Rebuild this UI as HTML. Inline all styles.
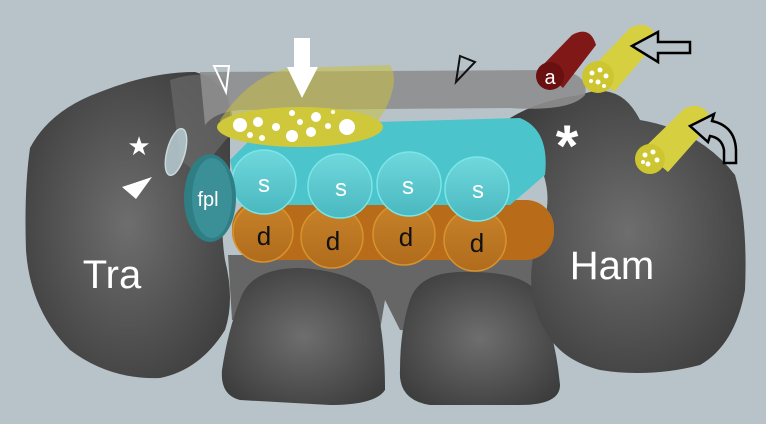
<!DOCTYPE html>
<html><head><meta charset="utf-8"><style>
html,body{margin:0;padding:0;background:#b7c3c8;}
svg{display:block}
text{font-family:"Liberation Sans",sans-serif;}
</style></head><body>
<svg width="766" height="424" viewBox="0 0 766 424" xmlns="http://www.w3.org/2000/svg">
<defs>
<radialGradient id="bone" cx="50%" cy="50%" r="65%"><stop offset="0" stop-color="#6e6e6e"/><stop offset="1" stop-color="#3a3a3a"/></radialGradient>
<linearGradient id="cy" x1="0" y1="0" x2="0" y2="1"><stop offset="0" stop-color="#6fd8dc"/><stop offset="1" stop-color="#4ab8c0"/></linearGradient>
<linearGradient id="or" x1="0" y1="0" x2="0" y2="1"><stop offset="0" stop-color="#c8822a"/><stop offset="1" stop-color="#b06c1c"/></linearGradient>
</defs>
<rect width="766" height="424" fill="#b7c3c8"/>
<!-- back grey -->
<path d="M228 255 L550 255 Q556 300 545 340 L400 330 L385 300 L380 330 L232 320Z" fill="#666"/>
<!-- bottom bones -->
<path d="M240 300 Q250 268 300 268 Q345 270 370 290 Q385 320 385 390 Q375 405 330 405 L240 400 Q220 395 222 370 Q228 330 240 300Z" fill="url(#bone)"/>
<path d="M410 300 Q420 270 470 272 Q520 272 535 290 Q555 330 560 385 Q560 405 520 405 L430 405 Q398 400 400 370 Q400 330 410 300Z" fill="url(#bone)"/>
<!-- Tra -->
<path d="M30 148 Q50 110 100 92 Q150 72 195 72 Q225 80 230 110 L230 175 Q218 215 225 260 Q235 300 225 330 Q200 370 160 378 Q110 380 70 350 Q30 310 26 250 Q24 190 30 148Z" fill="url(#bone)"/>
<path d="M170 80 Q200 70 225 78 L235 130 Q215 150 200 175 L180 160 Z" fill="#6a6a6a" opacity="0.7"/>
<!-- Ham -->
<path d="M510 118 Q540 100 580 95 Q620 80 640 120 Q700 130 735 175 Q748 220 745 290 Q735 345 700 365 Q650 378 600 370 Q560 360 545 330 Q520 290 540 230 Q555 200 540 165 Q512 145 510 118Z" fill="url(#bone)"/>
<!-- ligament band -->
<path d="M200 72 L560 70 Q590 75 585 95 Q570 112 510 108 L240 110 Q215 112 205 125 Z" fill="#8e8e8e" opacity="0.9"/>
<!-- glass tube left -->
<ellipse cx="176" cy="152" rx="9" ry="24" fill="#b8cdd3" opacity="0.85" stroke="#dfeef0" stroke-width="1.5" transform="rotate(15 176 152)"/>
<!-- cylinders d -->
<rect x="232" y="200" width="322" height="60" rx="28" fill="#b86c1a"/>
<g fill="url(#or)" stroke="#d8922e" stroke-width="1.5">
<circle cx="263" cy="232" r="30"/><circle cx="332" cy="237" r="31"/><circle cx="404" cy="234" r="31"/><circle cx="475" cy="240" r="31"/>
</g>
<!-- cylinders s -->
<path d="M230 160 L265 125 L520 118 Q550 130 545 175 L510 205 L240 205Z" fill="#4cc4cc"/>
<g fill="url(#cy)" stroke="#7ae6ea" stroke-width="1.5">
<circle cx="264" cy="182" r="32"/><circle cx="340" cy="186" r="32"/><circle cx="409" cy="184" r="32"/><circle cx="477" cy="189" r="32"/>
</g>
<!-- fpl -->
<ellipse cx="210" cy="198" rx="26" ry="44" fill="#2e7e84"/>
<ellipse cx="212" cy="198" rx="20" ry="40" fill="#3a9096"/>
<!-- yellow nerve -->
<path d="M220 120 Q250 75 290 68 L390 65 Q400 80 385 110 L375 125 L225 130Z" fill="#c8c040" opacity="0.55"/>
<ellipse cx="300" cy="127" rx="83" ry="20" fill="#cfc83a"/>
<g fill="#fff"><circle cx="240" cy="125" r="7"/><circle cx="258" cy="122" r="5"/><circle cx="276" cy="127" r="4"/><circle cx="292" cy="113" r="3"/><circle cx="300" cy="122" r="3"/><circle cx="292" cy="136" r="6"/><circle cx="316" cy="117" r="5"/><circle cx="311" cy="132" r="5"/><circle cx="328" cy="126" r="3"/><circle cx="347" cy="127" r="8"/><circle cx="250" cy="135" r="3"/><circle cx="262" cy="138" r="3"/><circle cx="333" cy="112" r="2"/></g>
<!-- big white arrow -->
<path d="M294 38 L310 38 L310 67 L318 67 L302 98 L287 67 L294 67Z" fill="#fff"/>
<!-- small hollow arrowheads -->
<path d="M214 66 L229 66 L226 92Z" fill="none" stroke="#fff" stroke-width="2"/>
<path d="M460 56 L475 62 L456 82Z" fill="none" stroke="#111" stroke-width="2"/>
<!-- star & white arrowhead -->
<text x="139" y="155" font-size="26" fill="#fff" text-anchor="middle">★</text>
<path d="M122 187 L152 177 L136 199Z" fill="#fff"/>
<!-- asterisk -->
<text x="567" y="166" font-size="58" fill="#fff" text-anchor="middle" font-weight="bold">*</text>
<!-- red cylinder a -->
<path d="M540 68 L572 35 Q590 25 596 45 L563 88Z" fill="#801818"/>
<circle cx="550" cy="76" r="14" fill="#6a1010"/>
<text x="550" y="84" font-size="20" fill="#fff" text-anchor="middle">a</text>
<!-- yellow cylinders right -->
<path d="M590 70 L630 28 Q650 18 658 40 L614 92Z" fill="#d6d040"/>
<circle cx="598" cy="77" r="16" fill="#cdc630"/>
<g fill="#fff"><circle cx="592" cy="73" r="2.5"/><circle cx="600" cy="70" r="2.5"/><circle cx="606" cy="76" r="2.5"/><circle cx="598" cy="82" r="2.5"/><circle cx="591" cy="81" r="2"/><circle cx="604" cy="86" r="2"/></g>
<path d="M642 150 L685 108 Q705 100 712 122 L668 172Z" fill="#d6d040"/>
<circle cx="650" cy="159" r="15" fill="#cdc630"/>
<g fill="#fff"><circle cx="645" cy="155" r="2.5"/><circle cx="653" cy="152" r="2.5"/><circle cx="657" cy="160" r="2.5"/><circle cx="648" cy="164" r="2.5"/><circle cx="643" cy="162" r="2"/></g>
<!-- outlined arrows -->
<path d="M632 46 L658 32 L658 42 L690 42 L690 53 L658 53 L658 62Z" fill="#b7c3c8" stroke="#000" stroke-width="2.5"/>
<path d="M690 126 L714 114 L712 121 Q735 126 736 150 L736 163 L724 163 L724 150 Q722 138 710 136 L708 142Z" fill="#b7c3c8" stroke="#000" stroke-width="2.5"/>
<!-- labels -->
<text x="264" y="192" font-size="24" fill="#fff" text-anchor="middle">s</text>
<text x="341" y="196" font-size="24" fill="#fff" text-anchor="middle">s</text>
<text x="408" y="194" font-size="24" fill="#fff" text-anchor="middle">s</text>
<text x="478" y="198" font-size="24" fill="#fff" text-anchor="middle">s</text>
<text x="264" y="245" font-size="26" fill="#111" text-anchor="middle">d</text>
<text x="333" y="250" font-size="26" fill="#111" text-anchor="middle">d</text>
<text x="406" y="246" font-size="26" fill="#111" text-anchor="middle">d</text>
<text x="477" y="252" font-size="26" fill="#111" text-anchor="middle">d</text>
<text x="208" y="206" font-size="20" fill="#fff" text-anchor="middle">fpl</text>
<text x="112" y="288" font-size="40" fill="#fff" text-anchor="middle">Tra</text>
<text x="612" y="279" font-size="40" fill="#fff" text-anchor="middle">Ham</text>
</svg>
</body></html>
